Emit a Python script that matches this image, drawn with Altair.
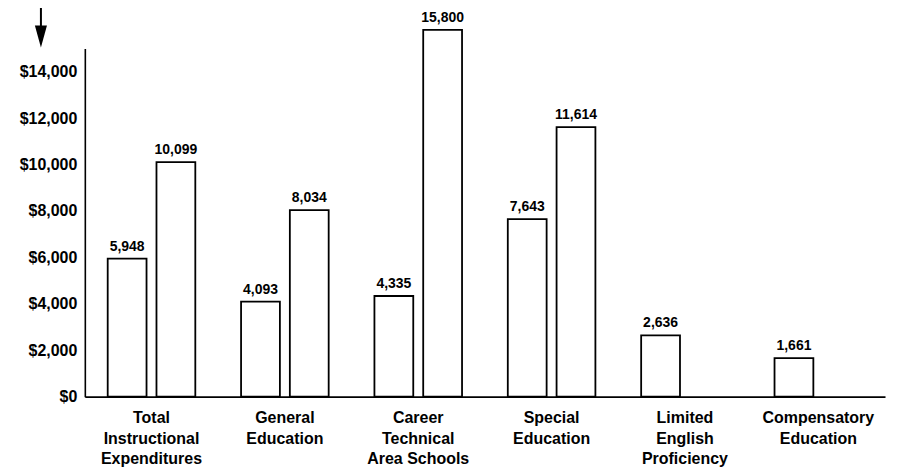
import altair as alt
import pandas as pd

categories = [
    "Total\nInstructional\nExpenditures",
    "General\nEducation",
    "Career\nTechnical\nArea Schools",
    "Special\nEducation",
    "Limited\nEnglish\nProficiency",
    "Compensatory\nEducation",
]
series_a = [5948, 4093, 4335, 7643, 2636, 1661]
series_b = [10099, 8034, 15800, 11614, None, None]
y_ticks = [0, 2000, 4000, 6000, 8000, 10000, 12000, 14000]

rows = []
for c, a, b in zip(categories, series_a, series_b):
    rows.append({"category": c, "series": "a", "value": a})
    if b is not None:
        rows.append({"category": c, "series": "b", "value": b})
df = pd.DataFrame(rows)

FONT = "Liberation Sans"
WEIGHT = "bold"

x_enc = alt.X(
    "category:N",
    sort=categories,
    title=None,
    scale=alt.Scale(paddingInner=0, paddingOuter=0),
    axis=alt.Axis(
        labelExpr="split(datum.label, '\\n')",
        labelAngle=0,
        labelFont=FONT,
        labelFontWeight=WEIGHT,
        labelFontSize=16,
        labelColor="black",
        labelLineHeight=20.5,
        labelPadding=13,
        ticks=False,
        domainColor="black",
        domainWidth=1.6,
    ),
)
xoff_enc = alt.XOffset(
    "series:N",
    scale=alt.Scale(paddingInner=0.204, paddingOuter=0.469),
)
y_enc = alt.Y(
    "value:Q",
    title=None,
    scale=alt.Scale(domain=[0, 15000], nice=False),
    axis=alt.Axis(
        values=y_ticks,
        format="$,.0f",
        labelFont=FONT,
        labelFontWeight=WEIGHT,
        labelFontSize=16,
        labelColor="black",
        labelPadding=8,
        ticks=False,
        grid=False,
        domainColor="black",
        domainWidth=1.6,
    ),
)

bars = alt.Chart(df).mark_bar(
    fill="white", stroke="black", strokeWidth=1.8
).encode(x=x_enc, xOffset=xoff_enc, y=y_enc)

labels = alt.Chart(df).mark_text(
    font=FONT, fontWeight=WEIGHT, fontSize=14, color="black", baseline="bottom", dy=-5
).encode(
    x=alt.X("category:N", sort=categories),
    xOffset=alt.XOffset("series:N"),
    y=alt.Y("value:Q"),
    text=alt.Text("value:Q", format=",.0f"),
)

dummy = pd.DataFrame({"k": [0]})
arrow_line = alt.Chart(dummy).mark_rule(color="black", strokeWidth=2).encode(
    x=alt.value(-44), y=alt.value(-48), y2=alt.value(-20)
)
arrow_head = alt.Chart(dummy).mark_point(
    shape="M -0.55 -1 L 0.55 -1 L 0 1 Z", filled=True, color="black", opacity=1, size=484
).encode(x=alt.value(-44), y=alt.value(-12))

chart = (
    alt.layer(bars, labels, arrow_line, arrow_head)
    .properties(
        width=802,
        height=349,
        autosize=alt.AutoSizeParams(type="none"),
        padding={"left": 77, "top": 40, "right": 5, "bottom": 70},
    )
    .configure_view(strokeWidth=0)
)

chart.save("out.html", embed_options={"renderer": "svg", "actions": False})
